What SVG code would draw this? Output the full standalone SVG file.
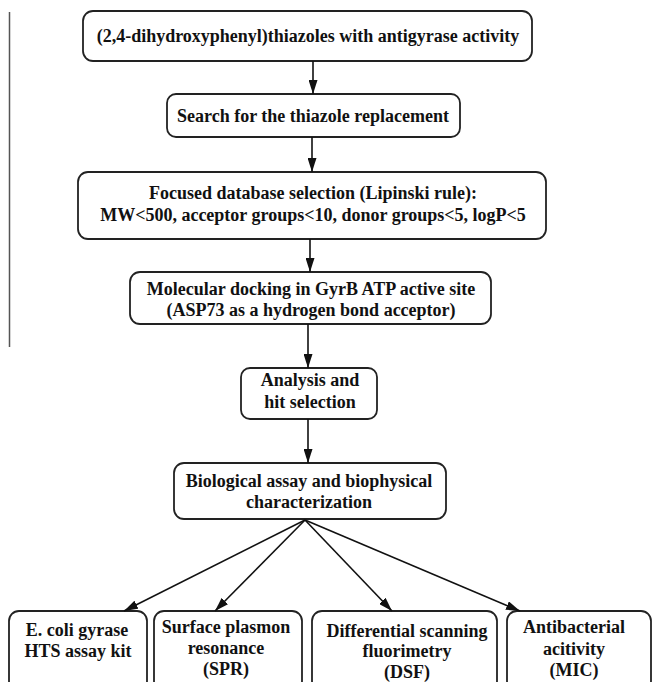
<svg xmlns="http://www.w3.org/2000/svg" width="652" height="682" viewBox="0 0 652 682">
  <style>
    .box { fill: #ffffff; stroke: #222222; stroke-width: 1.8; }
    .t { font-family: "Liberation Serif", "Times New Roman", serif; font-weight: bold; font-size: 18px; fill: #111111; text-anchor: middle; }
    .edge { stroke: #111111; stroke-width: 1.6; fill: none; marker-end: url(#ah); }
  </style>
  <defs>
    <marker id="ah" viewBox="0 0 14 9" refX="14" refY="4.5" markerWidth="14" markerHeight="9" markerUnits="userSpaceOnUse" orient="auto">
      <path d="M0,0 L14,4.5 L0,9 Z" fill="#111111"/>
    </marker>
  </defs>
  <rect width="652" height="682" fill="#ffffff"/>
  <line x1="9.5" y1="12" x2="9.5" y2="347" stroke="#555555" stroke-width="1.5"/>

  <g id="n1">
    <rect class="box" x="83" y="11" width="449" height="50" rx="10"/>
    <text class="t" x="308" y="42">(2,4-dihydroxyphenyl)thiazoles with antigyrase activity</text>
  </g>
  <g id="n2">
    <rect class="box" x="167" y="94" width="293" height="43" rx="9"/>
    <text class="t" x="313" y="122">Search for the thiazole replacement</text>
  </g>
  <g id="n3">
    <rect class="box" x="78" y="172" width="468" height="67" rx="10"/>
    <text class="t" x="313" y="199">Focused database selection (Lipinski rule):</text>
    <text class="t" x="313" y="221">MW&lt;500, acceptor groups&lt;10, donor groups&lt;5, logP&lt;5</text>
  </g>
  <g id="n4">
    <rect class="box" x="130" y="272" width="361" height="52" rx="10"/>
    <text class="t" x="311" y="295">Molecular docking in GyrB ATP active site</text>
    <text class="t" x="311" y="316">(ASP73 as a hydrogen bond acceptor)</text>
  </g>
  <g id="n5">
    <rect class="box" x="241" y="368" width="136" height="51" rx="9"/>
    <text class="t" x="310" y="386">Analysis and</text>
    <text class="t" x="310" y="408">hit selection</text>
  </g>
  <g id="n6">
    <rect class="box" x="174" y="463" width="272" height="56" rx="10"/>
    <text class="t" x="309" y="487">Biological assay and biophysical</text>
    <text class="t" x="309" y="508">characterization</text>
  </g>
  <g id="n7">
    <rect class="box" x="9" y="611" width="138" height="80" rx="10"/>
    <text class="t" x="77" y="636">E. coli gyrase</text>
    <text class="t" x="78" y="657">HTS assay kit</text>
  </g>
  <g id="n8">
    <rect class="box" x="154" y="611" width="148" height="80" rx="10"/>
    <text class="t" x="226" y="633">Surface plasmon</text>
    <text class="t" x="226" y="654">resonance</text>
    <text class="t" x="226" y="675">(SPR)</text>
  </g>
  <g id="n9">
    <rect class="box" x="312" y="611" width="185" height="80" rx="10"/>
    <text class="t" x="407" y="637">Differential scanning</text>
    <text class="t" x="407" y="657">fluorimetry</text>
    <text class="t" x="407" y="678">(DSF)</text>
  </g>
  <g id="n10">
    <rect class="box" x="507" y="611" width="144" height="80" rx="10"/>
    <text class="t" x="574" y="633">Antibacterial</text>
    <text class="t" x="574" y="655">acitivity</text>
    <text class="t" x="574" y="676">(MIC)</text>
  </g>

  <g id="connectors">
    <line class="edge" x1="313" y1="61" x2="313" y2="94"/>
    <line class="edge" x1="312" y1="137" x2="312" y2="172"/>
    <line class="edge" x1="310" y1="239" x2="310" y2="272"/>
    <line class="edge" x1="308" y1="324" x2="308" y2="368"/>
    <line class="edge" x1="308" y1="419" x2="308" y2="463"/>
    <line class="edge" x1="305" y1="520" x2="124" y2="611"/>
    <line class="edge" x1="305" y1="520" x2="215" y2="611"/>
    <line class="edge" x1="305" y1="520" x2="392" y2="611"/>
    <line class="edge" x1="305" y1="520" x2="520" y2="611"/>
  </g>
</svg>
